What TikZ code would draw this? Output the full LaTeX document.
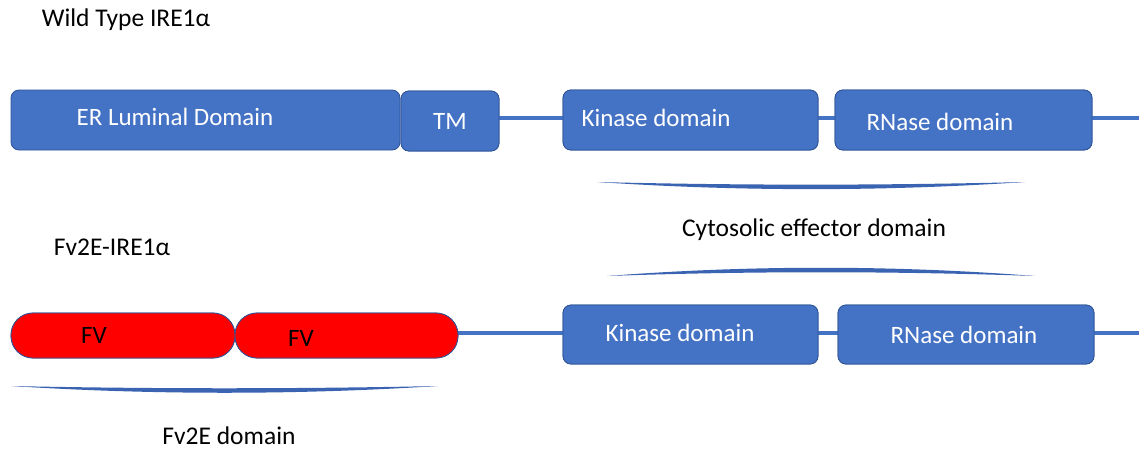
\documentclass[tikz,border=0pt]{standalone}
\usepackage{fontspec}
\setmainfont{Carlito}
\definecolor{boxblue}{HTML}{4472C4}
\definecolor{edgeblue}{HTML}{2F5597}
\definecolor{braceblue}{HTML}{3A63B2}
\definecolor{fvred}{HTML}{FF0000}
\begin{document}
\begin{tikzpicture}[x=1pt,y=-1pt,
  dombox/.style={draw=edgeblue,line width=0.8pt,fill=boxblue,rounded corners=8pt,inner sep=0pt},
  fvbox/.style={draw=edgeblue,line width=0.8pt,fill=fvred,rounded corners=22pt,inner sep=0pt,minimum height=45pt},
  conn/.style={draw=boxblue,line width=4pt},
  intext/.style={text=white,font=\fontsize{25}{30}\selectfont,inner sep=0pt},
  fvtext/.style={text=black,font=\fontsize{25}{30}\selectfont,inner sep=0pt},
  lbl/.style={text=black,font=\fontsize{25.5}{30}\selectfont,inner sep=0pt}]
\useasboundingbox[fill=white] (0,0) rectangle (1139,450);
% titles
\node[lbl] (t1) at (126,20) {Wild Type IRE1α};
\node[lbl] (t2) at (112,247) {Fv2E-IRE1α};
% row 1
\coordinate (end1) at (1139,118);
\node[dombox,minimum width=255pt,minimum height=60pt] (K1) at (690.5,120) {};
\node[dombox,minimum width=257pt,minimum height=60pt] (R1) at (963.5,120) {};
\node[dombox,minimum width=98pt,minimum height=60pt] (TM) at (450,121) {};
\draw[conn] ([yshift=3pt]TM.east) -- ([yshift=2pt]K1.west);
\draw[conn] ([yshift=2pt]K1.east) -- ([yshift=2pt]R1.west);
\draw[conn] ([yshift=2pt]R1.east) -- (end1);
\node[dombox,minimum width=255pt,minimum height=60pt] at (690.5,120) {};
\node[dombox,minimum width=257pt,minimum height=60pt] at (963.5,120) {};
\node[dombox,minimum width=389pt,minimum height=60pt] (ER) at (205.5,120) {};
\node[dombox,minimum width=98pt,minimum height=60pt] at (450,121) {};
\node[intext] (lER) at (175,117) {ER Luminal Domain};
\node[intext] (lTM) at (450,121) {TM};
\node[intext] (lK1) at (656,118) {Kinase domain};
\node[intext] (lR1) at (940,122) {RNase domain};
% braces
\fill[braceblue] (597,182) .. controls (740,185.5) and (882,185.5) .. (1025,182)
  .. controls (882,191.5) and (740,191.5) .. cycle;
\node[lbl] (cyto) at (814,230) {Cytosolic effector domain};
\fill[braceblue] (607,276) .. controls (750,265) and (892,265) .. (1035,276)
  .. controls (892,271) and (750,271) .. cycle;
% row 2
\coordinate (end2) at (1139,333);
\node[fvbox,minimum width=224pt] (FV1) at (123,335.5) {};
\node[fvbox,minimum width=223pt] (FV2) at (346.5,335.5) {};
\node[dombox,minimum width=255pt,minimum height=59pt] (K2) at (690.5,334.5) {};
\node[dombox,minimum width=256pt,minimum height=59pt] (R2) at (966,334.5) {};
\draw[conn] ([yshift=2.5pt]FV2.east) -- ([yshift=1.5pt]K2.west);
\draw[conn] ([yshift=1.5pt]K2.east) -- ([yshift=1.5pt]R2.west);
\draw[conn] ([yshift=1.5pt]R2.east) -- (end2);
\node[fvbox,minimum width=224pt] at (123,335.5) {};
\node[fvbox,minimum width=223pt] at (346.5,335.5) {};
\node[dombox,minimum width=255pt,minimum height=59pt] at (690.5,334.5) {};
\node[dombox,minimum width=256pt,minimum height=59pt] at (966,334.5) {};
\node[fvtext] (lF1) at (94,335) {FV};
\node[fvtext] (lF2) at (301,338) {FV};
\node[intext] (lK2) at (680,333) {Kinase domain};
\node[intext] (lR2) at (964,335) {RNase domain};
\fill[braceblue] (11,386) .. controls (153,389) and (296,389) .. (438,386)
  .. controls (296,395) and (153,395) .. cycle;
\node[lbl] (fvd) at (229,436) {Fv2E domain};
\end{tikzpicture}
\end{document}
